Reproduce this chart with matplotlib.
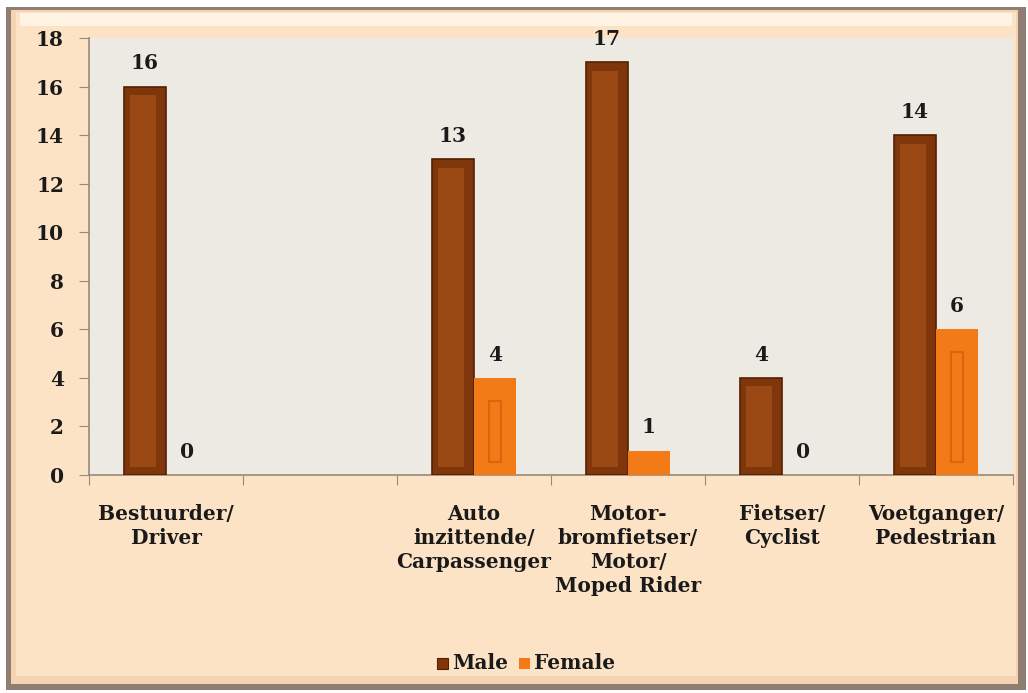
import numpy as np
import matplotlib.pyplot as plt
from matplotlib.patches import Rectangle

# data
categories = ["Bestuurder/\nDriver", "", "Auto\ninzittende/\nCarpassenger",
              "Motor-\nbromfietser/\nMotor/\nMoped Rider", "Fietser/\nCyclist",
              "Voetganger/\nPedestrian"]
male = [16, np.nan, 13, 17, 4, 14]
female = [0, np.nan, 4, 1, 0, 6]
yticks = [0, 2, 4, 6, 8, 10, 12, 14, 16, 18]

plt.rcParams['font.family'] = ['DejaVu Serif']
plt.rcParams['font.weight'] = 'bold'
FS = 14.5

W, H = 1028, 693
fig = plt.figure(figsize=(W / 100, H / 100), dpi=100, facecolor='white')

# frame with a simple bevel look
def px_rect(x0, y0, x1, y1, z=-10, **kw):
    r = Rectangle((x0 / W, 1 - y1 / H), (x1 - x0) / W, (y1 - y0) / H,
                  transform=fig.transFigure, zorder=z, **kw)
    fig.patches.append(r)

px_rect(6, 7, 1026, 690, facecolor='#8F7D72', edgecolor='none')
px_rect(11, 10, 1018, 684, facecolor='#F3D3B2', edgecolor='none')
px_rect(16, 12, 1016, 676, facecolor='#FDE3C5', edgecolor='none')
px_rect(20, 13, 1012, 26, facecolor='#FFF3E4', edgecolor='none')

ax = fig.add_axes([89 / W, 1 - 475 / H, (1013 - 89) / W, (475 - 38) / H])
ax.set_facecolor('#EDEAE3')

x = np.arange(len(categories))
bw = 0.273
male_c, male_in, male_edge = '#7E360A', '#9A4814', '#552000'
fem_c, fem_in = '#F27B17', '#D9650D'

ax.bar(x - bw / 2, male, bw, color=male_c, edgecolor=male_edge, lw=1.2, zorder=3)
m = np.array(male, dtype=float)
ax.bar(x - bw / 2 - 0.012, m - 0.7, bw * 0.62, bottom=0.35,
       color=male_in, edgecolor='none', zorder=4)
ax.bar(x + bw / 2, female, bw, color=fem_c, edgecolor='none', zorder=3)
f = np.array(female, dtype=float)
f_in = np.where(f >= 2, f - 1.5, np.nan)
ax.bar(x + bw / 2, f_in, bw * 0.3, bottom=0.55,
       color='none', edgecolor=fem_in, lw=1.5, zorder=4)

for xi, v in zip(x, male):
    if not np.isnan(v):
        ax.text(xi - bw / 2, v + 0.55, f"{v:g}", ha='center', va='bottom',
                fontsize=FS, fontweight='bold', color='#1A1A1A', zorder=5)
for xi, v in zip(x, female):
    if not np.isnan(v):
        ax.text(xi + bw / 2, v + 0.55, f"{v:g}", ha='center', va='bottom',
                fontsize=FS, fontweight='bold', color='#1A1A1A', zorder=5)

ax.set_xlim(-0.5, len(categories) - 0.5)
ax.set_ylim(0, 18)
ax.set_yticks(yticks)
ax.set_yticklabels([str(t) for t in yticks], fontsize=FS, fontweight='bold')
ax.set_xticks(np.arange(len(categories) + 1) - 0.5)
ax.set_xticklabels([])
ax.tick_params(axis='y', length=7, color='#9A8878', pad=11, labelcolor='#1A1A1A')
ax.tick_params(axis='x', length=7, color='#9A8878', direction='out')
for s in ['top', 'right']:
    ax.spines[s].set_visible(False)
for s in ['left', 'bottom']:
    ax.spines[s].set_color('#9A8878')
    ax.spines[s].set_linewidth(1.2)

for xi, lab in zip(x, categories):
    ax.text(xi, -1.2, lab, ha='center', va='top', fontsize=FS, fontweight='bold',
            color='#1A1A1A', linespacing=1.25, transform=ax.transData, clip_on=False)

# legend
fig.patches.append(Rectangle((437 / W, 1 - 669 / H), 11 / W, 11 / H,
                             transform=fig.transFigure, facecolor=male_c,
                             edgecolor=male_edge, lw=0.8))
fig.text(452 / W, 1 - 663 / H, "Male", ha='left', va='center', fontsize=FS,
         fontweight='bold', color='#1A1A1A')
fig.patches.append(Rectangle((519 / W, 1 - 669 / H), 11 / W, 11 / H,
                             transform=fig.transFigure, facecolor=fem_c,
                             edgecolor='none'))
fig.text(534 / W, 1 - 663 / H, "Female", ha='left', va='center', fontsize=FS,
         fontweight='bold', color='#1A1A1A')

fig.savefig('out.png', dpi=100, facecolor=fig.get_facecolor())
